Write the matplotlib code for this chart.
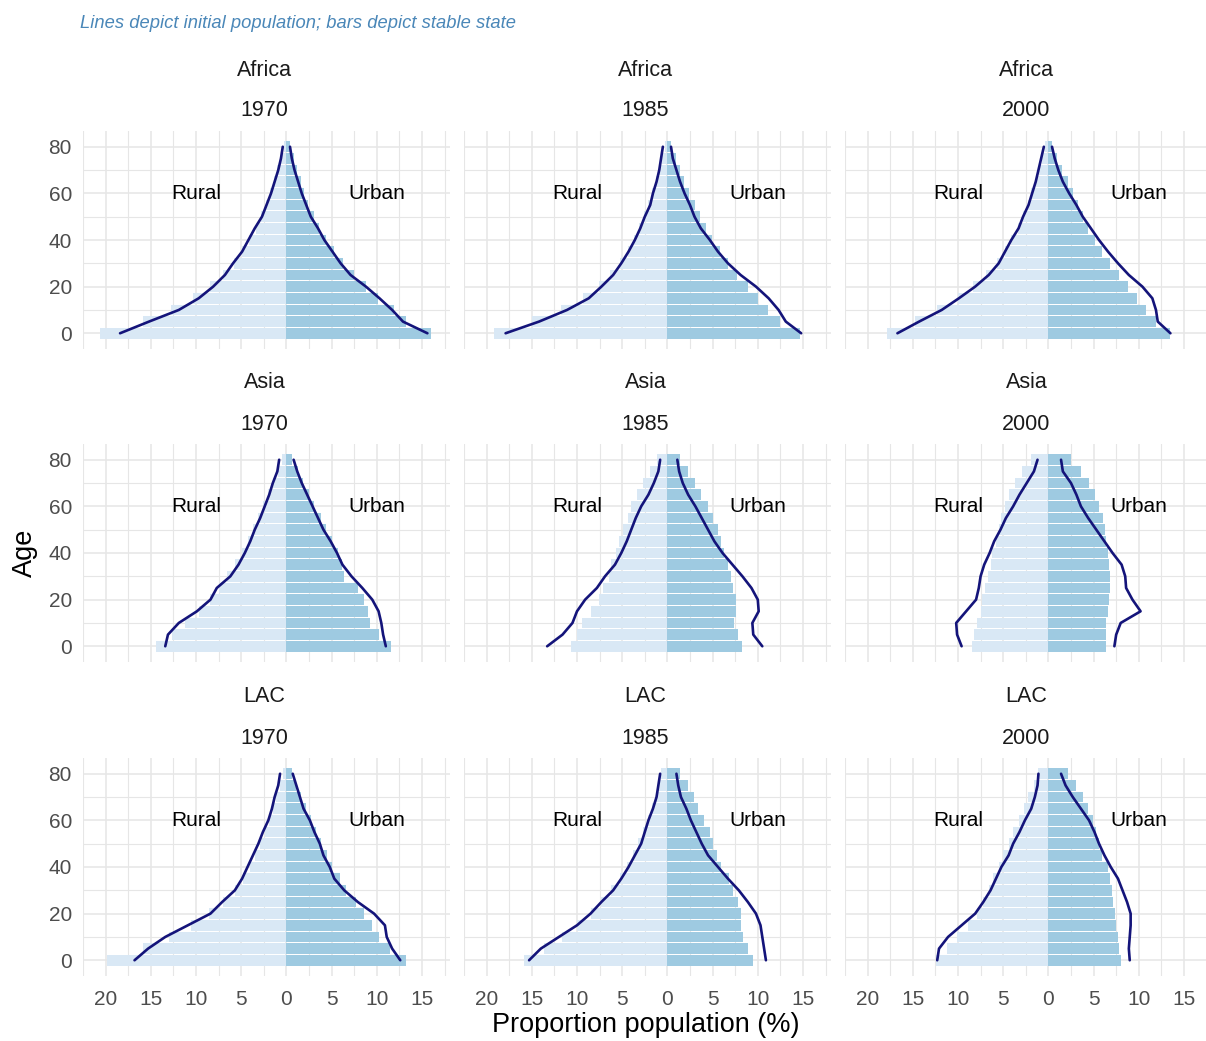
import matplotlib
matplotlib.use("Agg")
import matplotlib.pyplot as plt
import numpy as np

plt.rcParams['font.family'] = ['Liberation Sans', 'DejaVu Sans']

ages = [0, 5, 10, 15, 20, 25, 30, 35, 40, 45, 50, 55, 60, 65, 70, 75, 80]
regions = ["Africa", "Asia", "LAC"]
years = ["1970", "1985", "2000"]
x_ticks = [-20, -15, -10, -5, 0, 5, 10, 15]
y_ticks = [0, 20, 40, 60, 80]

# Stable state (bars): rural shown negative, urban positive
africa_1970_rural_bar = [-20.6, -15.9, -12.8, -10.3, -8.5, -7.0, -5.8, -4.9, -4.1, -3.4, -2.8, -2.3, -1.8, -1.4, -1.0, -0.6, -0.3]
africa_1970_urban_bar = [16.0, 13.2, 11.9, 10.1, 8.8, 7.5, 6.3, 5.3, 4.4, 3.6, 3.0, 2.4, 2.0, 1.6, 1.2, 0.8, 0.4]
africa_1985_rural_bar = [-19.2, -15.0, -11.8, -9.3, -7.6, -6.3, -5.2, -4.4, -3.7, -3.1, -2.6, -2.1, -1.7, -1.3, -0.9, -0.6, -0.3]
africa_1985_urban_bar = [14.7, 12.5, 11.1, 10.0, 8.9, 7.7, 6.7, 5.8, 4.9, 4.3, 3.6, 3.0, 2.4, 1.8, 1.4, 0.9, 0.4]
africa_2000_rural_bar = [-17.8, -14.8, -12.3, -10.0, -8.3, -6.9, -5.7, -4.8, -4.1, -3.4, -2.8, -2.3, -1.9, -1.4, -1.0, -0.7, -0.4]
africa_2000_urban_bar = [13.5, 11.9, 10.8, 9.8, 8.8, 7.8, 6.8, 5.9, 5.2, 4.4, 3.8, 3.3, 2.7, 2.2, 1.5, 1.0, 0.4]
asia_1970_rural_bar = [-14.4, -12.6, -11.2, -9.7, -8.4, -7.5, -6.6, -5.7, -4.9, -4.2, -3.7, -3.1, -2.6, -2.0, -1.5, -0.9, -0.5]
asia_1970_urban_bar = [11.6, 10.3, 9.3, 9.0, 8.6, 7.9, 6.4, 6.1, 5.7, 5.1, 4.4, 3.8, 3.1, 2.5, 1.8, 1.3, 0.6]
asia_1985_rural_bar = [-10.7, -10.0, -9.4, -8.5, -7.6, -7.1, -6.5, -6.2, -5.7, -5.3, -4.9, -4.4, -4.0, -3.4, -2.7, -1.9, -1.2]
asia_1985_urban_bar = [8.3, 7.8, 7.4, 7.6, 7.6, 7.3, 7.0, 6.7, 6.3, 5.9, 5.6, 5.0, 4.5, 3.7, 3.0, 2.3, 1.4]
asia_2000_rural_bar = [-8.5, -8.2, -7.9, -7.4, -7.3, -7.0, -6.7, -6.4, -6.2, -5.8, -5.5, -5.2, -4.8, -4.4, -3.7, -2.9, -1.9]
asia_2000_urban_bar = [6.4, 6.4, 6.4, 6.6, 6.7, 6.8, 6.8, 6.7, 6.6, 6.4, 6.3, 6.0, 5.6, 5.2, 4.5, 3.6, 2.5]
lac_1970_rural_bar = [-19.8, -15.9, -13.0, -10.6, -8.6, -7.0, -5.7, -4.8, -4.0, -3.5, -2.9, -2.4, -1.9, -1.5, -1.1, -0.7, -0.4]
lac_1970_urban_bar = [13.2, 11.5, 10.3, 9.5, 8.6, 7.7, 6.6, 5.9, 5.1, 4.5, 3.8, 3.3, 2.7, 2.2, 1.6, 1.1, 0.6]
lac_1985_rural_bar = [-15.9, -13.7, -11.7, -10.0, -8.5, -7.3, -6.2, -5.2, -4.5, -3.8, -3.2, -2.7, -2.1, -1.7, -1.3, -1.0, -0.7]
lac_1985_urban_bar = [9.5, 8.9, 8.4, 8.1, 8.1, 7.8, 7.3, 6.8, 5.9, 5.5, 5.0, 4.7, 4.1, 3.4, 2.9, 2.3, 1.4]
lac_2000_rural_bar = [-12.4, -11.2, -10.1, -8.9, -7.9, -7.2, -6.6, -6.1, -5.5, -5.0, -4.4, -3.9, -3.3, -2.7, -2.2, -1.6, -1.1]
lac_2000_urban_bar = [8.0, 7.8, 7.7, 7.5, 7.4, 7.2, 7.0, 6.8, 6.6, 5.9, 5.6, 5.3, 4.9, 4.4, 3.8, 3.1, 2.2]

# Initial population (lines)
africa_1970_rural_line = [-18.4, -15.2, -11.9, -9.7, -8.1, -6.8, -5.9, -4.9, -4.2, -3.5, -2.7, -2.2, -1.7, -1.3, -0.9, -0.6, -0.4]
africa_1970_urban_line = [15.6, 12.9, 11.7, 10.3, 8.8, 7.1, 6.0, 5.1, 4.2, 3.5, 2.7, 2.2, 1.7, 1.3, 0.9, 0.6, 0.4]
africa_1985_rural_line = [-17.9, -14.2, -11.1, -8.7, -7.3, -6.0, -5.1, -4.3, -3.6, -3.0, -2.5, -1.9, -1.6, -1.2, -0.9, -0.7, -0.5]
africa_1985_urban_line = [14.8, 13.1, 12.3, 11.2, 9.8, 8.1, 6.7, 5.6, 4.7, 3.7, 3.0, 2.5, 1.9, 1.4, 1.0, 0.6, 0.4]
africa_2000_rural_line = [-16.7, -14.3, -11.8, -9.9, -8.1, -6.6, -5.5, -4.8, -4.1, -3.3, -2.8, -2.2, -1.8, -1.4, -1.1, -0.8, -0.5]
africa_2000_urban_line = [13.5, 12.1, 11.9, 11.5, 10.4, 8.9, 7.7, 6.6, 5.6, 4.7, 3.8, 3.1, 2.3, 1.6, 1.1, 0.7, 0.4]
asia_1970_rural_line = [-13.4, -13.1, -11.9, -9.9, -8.4, -7.7, -6.2, -5.3, -4.6, -4.0, -3.5, -2.9, -2.4, -1.9, -1.5, -1.0, -0.8]
asia_1970_urban_line = [11.0, 10.7, 10.5, 10.2, 9.5, 8.4, 7.2, 6.2, 5.6, 4.9, 4.1, 3.5, 2.9, 2.3, 1.7, 1.2, 0.8]
asia_1985_rural_line = [-13.3, -11.6, -10.5, -10.0, -9.1, -7.8, -6.9, -5.8, -5.1, -4.5, -4.0, -3.5, -2.9, -2.1, -1.5, -1.0, -0.8]
asia_1985_urban_line = [10.5, 9.5, 9.4, 10.1, 10.0, 9.3, 8.3, 7.2, 6.1, 5.2, 4.5, 3.8, 3.1, 2.3, 1.7, 1.3, 1.1]
asia_2000_rural_line = [-9.6, -10.1, -10.2, -9.1, -8.0, -7.7, -7.5, -7.1, -6.5, -6.0, -5.3, -4.7, -3.9, -3.2, -2.4, -1.6, -1.2]
asia_2000_urban_line = [7.3, 7.5, 8.0, 10.2, 9.3, 8.6, 8.5, 8.1, 7.1, 6.2, 5.3, 4.4, 3.6, 3.1, 2.5, 1.6, 1.4]
lac_1970_rural_line = [-16.8, -15.3, -13.4, -10.9, -8.4, -7.1, -5.7, -4.9, -4.3, -3.7, -3.1, -2.6, -2.0, -1.6, -1.3, -0.9, -0.7]
lac_1970_urban_line = [12.6, 11.7, 11.1, 10.9, 9.7, 7.9, 6.4, 5.3, 4.8, 4.1, 3.7, 3.1, 2.6, 1.9, 1.5, 1.1, 0.7]
lac_1985_rural_line = [-15.3, -14.0, -12.0, -10.0, -8.5, -7.3, -6.0, -5.1, -4.3, -3.6, -2.9, -2.5, -2.1, -1.6, -1.2, -1.0, -0.8]
lac_1985_urban_line = [10.9, 10.7, 10.5, 10.3, 9.8, 8.9, 7.9, 6.7, 5.6, 4.5, 3.8, 3.2, 2.6, 2.1, 1.5, 1.2, 1.0]
lac_2000_rural_line = [-12.3, -12.1, -11.1, -9.6, -8.1, -7.2, -6.4, -5.8, -5.2, -4.4, -3.9, -3.2, -2.6, -1.9, -1.5, -1.2, -1.1]
lac_2000_urban_line = [9.0, 8.9, 9.0, 9.1, 9.1, 8.7, 8.2, 7.7, 6.9, 6.2, 5.6, 5.1, 4.5, 3.6, 2.7, 1.9, 1.4]

panels = {
    ("Africa", "1970"): (africa_1970_rural_bar, africa_1970_urban_bar, africa_1970_rural_line, africa_1970_urban_line),
    ("Africa", "1985"): (africa_1985_rural_bar, africa_1985_urban_bar, africa_1985_rural_line, africa_1985_urban_line),
    ("Africa", "2000"): (africa_2000_rural_bar, africa_2000_urban_bar, africa_2000_rural_line, africa_2000_urban_line),
    ("Asia", "1970"): (asia_1970_rural_bar, asia_1970_urban_bar, asia_1970_rural_line, asia_1970_urban_line),
    ("Asia", "1985"): (asia_1985_rural_bar, asia_1985_urban_bar, asia_1985_rural_line, asia_1985_urban_line),
    ("Asia", "2000"): (asia_2000_rural_bar, asia_2000_urban_bar, asia_2000_rural_line, asia_2000_urban_line),
    ("LAC", "1970"): (lac_1970_rural_bar, lac_1970_urban_bar, lac_1970_rural_line, lac_1970_urban_line),
    ("LAC", "1985"): (lac_1985_rural_bar, lac_1985_urban_bar, lac_1985_rural_line, lac_1985_urban_line),
    ("LAC", "2000"): (lac_2000_rural_bar, lac_2000_urban_bar, lac_2000_rural_line, lac_2000_urban_line),
}

W, H = 1206, 1041
fig = plt.figure(figsize=(W / 100, H / 100), dpi=100)
fig.patch.set_facecolor("white")

col_left = [83, 464, 845]
panel_w = 367
row_top = [131, 444, 758]
panel_h = 218

rural_col = "#d9e8f5"
urban_col = "#9ecae1"
line_col = "#14147a"
grid_col = "#e6e6e6"
tick_col = "#4d4d4d"

for r, reg in enumerate(regions):
    for c, yr in enumerate(years):
        L = col_left[c] / W
        B = 1 - (row_top[r] + panel_h) / H
        ax = fig.add_axes([L, B, panel_w / W, panel_h / H])
        rb, ub, rl, ul = panels[(reg, yr)]
        ax.set_axisbelow(True)
        ax.barh(ages, rb, height=4.5, color=rural_col, linewidth=0, zorder=2)
        ax.barh(ages, ub, height=4.5, color=urban_col, linewidth=0, zorder=2)
        ax.plot(rl, ages, color=line_col, lw=1.9, zorder=3, solid_capstyle="round")
        ax.plot(ul, ages, color=line_col, lw=1.9, zorder=3, solid_capstyle="round")
        ax.set_xlim(-22.2, 18.1)
        ax.set_ylim(-6.75, 86.75)
        ax.set_xticks(x_ticks)
        ax.set_xticks(np.arange(-22.5, 18.1, 2.5), minor=True)
        ax.set_yticks(y_ticks)
        ax.set_yticks([10, 30, 50, 70], minor=True)
        ax.grid(True, which="major", color=grid_col, lw=1.1)
        ax.grid(True, which="minor", color=grid_col, lw=0.8)
        ax.tick_params(which="both", length=0, labelsize=15, colors=tick_col)
        ax.tick_params(axis="x", pad=10)
        ax.tick_params(axis="y", pad=8)
        for s in ax.spines.values():
            s.set_visible(False)
        if c == 0:
            ax.set_yticklabels([str(v) for v in y_ticks])
        else:
            ax.set_yticklabels([])
        if r == 2:
            ax.set_xticklabels([str(abs(v)) for v in x_ticks])
        else:
            ax.set_xticklabels([])
        ax.text(-10, 60, "Rural", ha="center", va="center", fontsize=15, color="black", zorder=4)
        ax.text(10, 60, "Urban", ha="center", va="center", fontsize=15, color="black", zorder=4)
        cx = (col_left[c] + panel_w / 2 - 2) / W
        fig.text(cx, 1 - (row_top[r] - 61) / H, reg, ha="center", va="center", fontsize=15.5, color="#1a1a1a")
        fig.text(cx, 1 - (row_top[r] - 20) / H, yr, ha="center", va="center", fontsize=15.5, color="#1a1a1a")

fig.text(80 / W, 1 - 23 / H, "Lines depict initial population; bars depict stable state",
         ha="left", va="center", fontsize=13.2, style="italic", color="#4a87b8")
fig.text(646 / W, 1 - 1025 / H, "Proportion population (%)", ha="center", va="center", fontsize=19.5, color="black")
fig.text(25 / W, 1 - 553 / H, "Age", ha="center", va="center", fontsize=19.5, rotation=90, color="black")

fig.savefig("out.png", dpi=100, facecolor="white")
